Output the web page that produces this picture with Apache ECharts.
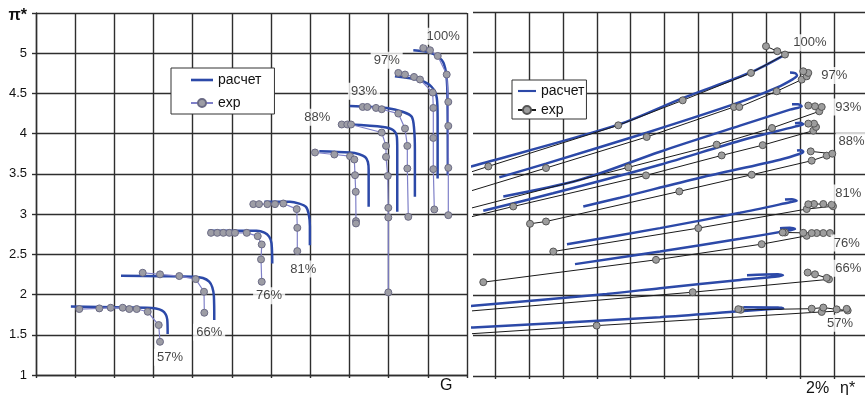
<!DOCTYPE html>
<html><head><meta charset="utf-8">
<script src="https://cdn.jsdelivr.net/npm/echarts@6/dist/echarts.min.js"></script>
<style>html,body{margin:0;padding:0;background:#fff}#c{width:865px;height:395px}</style>
</head><body><div id="c"></div>
<script>
// ---- data (speed lines from top: 100%, 97%, 93%, unlabeled, 88%, 81%, 76%, 66%, 57%) ----
// left panel: [G, pi*]
const leftCalc = [
 [[9.63,5.037],[10.06,5.008],[10.36,4.913],[10.46,4.77],[10.50,4.5],[10.51,3.484]],
 [[9.16,4.714],[9.80,4.664],[10.10,4.58],[10.23,4.44],[10.25,4.2],[10.25,3.443]],
 [[8.01,4.345],[8.95,4.32],[9.375,4.27],[9.59,4.21],[9.65,4.06],[9.67,3.8],[9.67,3.215]],
 [[8.01,4.114],[8.86,4.084],[9.12,4.043],[9.21,3.96],[9.22,3.80],[9.22,3.028]],
 [[7.23,3.782],[8.01,3.766],[8.25,3.745],[8.40,3.71],[8.47,3.65],[8.49,3.55],[8.49,3.09]],
 [[5.83,3.153],[6.48,3.153],[6.72,3.13],[6.89,3.09],[6.96,3.0],[6.99,2.85],[6.99,2.613]],
 [[4.40,2.792],[5.63,2.792],[5.83,2.77],[5.95,2.72],[6.01,2.64],[6.03,2.387]],
 [[2.17,2.233],[3.2,2.228],[4.02,2.221],[4.26,2.205],[4.42,2.16],[4.50,2.09],[4.54,1.98],[4.55,1.683]],
 [[0.89,1.85],[2.83,1.836],[3.06,1.826],[3.22,1.80],[3.31,1.755],[3.35,1.69],[3.36,1.51]]
];
const leftExp = [
 [[9.885,5.065],[10.056,5.037],[10.253,4.966],[10.482,4.735],[10.523,4.395],[10.523,4.096],[10.523,3.575],[10.523,2.987]],
 [[9.247,4.755],[9.418,4.735],[9.648,4.705],[9.801,4.673],[10.125,4.511],[10.140,4.320],[10.140,3.947],[10.140,3.559],[10.166,3.058]],
 [[8.338,4.332],[8.456,4.332],[8.678,4.320],[8.823,4.304],[9.247,4.250],[9.418,4.064],[9.477,3.848],[9.477,3.567],[9.502,2.966]],
 [[7.802,4.114],[7.945,4.114],[8.040,4.114],[8.823,4.014],[8.933,3.848],[8.933,3.711],[8.977,3.475],[8.992,3.078],[8.992,2.958],[8.992,2.027]],
 [[7.121,3.766],[7.614,3.741],[8.014,3.720],[8.124,3.679],[8.142,3.484],[8.160,3.277],[8.167,2.913],[8.167,2.884]],
 [[5.546,3.124],[5.692,3.124],[5.904,3.124],[6.100,3.124],[6.312,3.132],[6.654,3.062],[6.669,2.829],[6.669,2.540]],
 [[4.467,2.767],[4.627,2.767],[4.781,2.767],[4.934,2.767],[5.079,2.767],[5.378,2.767],[5.659,2.726],[5.761,2.623],[5.743,2.437],[5.761,2.159]],
 [[2.723,2.271],[3.165,2.251],[3.657,2.230],[4.076,2.192],[4.288,2.035],[4.296,1.774]],
 [[1.105,1.820],[1.616,1.828],[1.907,1.836],[2.213,1.836],[2.381,1.820],[2.570,1.820],[2.851,1.786],[3.132,1.621],[3.165,1.413]]
];
// right panel: [eta* (grid steps), pi*]
const rightCalc = [
 [[-1.62,3.482],[-0.65,3.596],[3.634,4.107],[5.55,4.438],[7.545,4.755],[8.497,4.961]],
 [[0.127,3.455],[1.503,3.625],[4.471,4.008],[7.132,4.373],[8.302,4.565],[8.783,4.671],[8.901,4.714],[8.842,4.745],[8.694,4.751]],
 [[0.245,3.220],[2.505,3.426],[4.863,3.773],[7.221,4.095],[8.694,4.293],[9.039,4.336],[8.930,4.361],[8.753,4.361]],
 [[-0.345,3.043],[1.709,3.259],[4.863,3.612],[7.221,3.909],[8.842,4.083],[9.086,4.113],[8.989,4.132],[8.842,4.126]],
 [[2.602,3.096],[3.684,3.204],[6.042,3.451],[8.400,3.674],[8.989,3.748],[9.086,3.773],[9.019,3.792],[8.901,3.789]],
 [[2.122,2.630],[4.863,2.828],[7.221,3.018],[8.694,3.148],[8.892,3.167],[8.753,3.185],[8.547,3.181]],
 [[2.358,2.383],[4.863,2.539],[7.221,2.696],[8.694,2.801],[8.842,2.816],[8.694,2.832],[8.400,2.826]],
 [[-1.62,1.827],[-0.64,1.867],[3.292,2.015],[4.863,2.086],[7.221,2.188],[8.252,2.226],[8.488,2.244],[8.341,2.259],[7.427,2.247]],
 [[-1.62,1.576],[-0.64,1.601],[4.863,1.727],[7.221,1.799],[8.252,1.830],[8.497,1.836],[8.341,1.848],[7.318,1.851]]
];
const rightExp = [
 [[-4.66,2.987],[-0.197,3.591],[3.634,4.099],[5.532,4.408],[7.545,4.747],[8.547,4.974],[8.320,5.015],[7.987,5.077]],
 [[-2.51,3.058],[1.503,3.571],[4.471,3.955],[7.044,4.326],[7.200,4.326],[8.302,4.520],[9.039,4.664],[9.187,4.705],[9.234,4.747],[9.086,4.767]],
 [[-1.71,2.966],[3.929,3.579],[6.534,3.860],[8.164,4.066],[9.558,4.272],[9.629,4.326],[9.431,4.334],[9.234,4.343]],
 [[-5.75,2.027],[-0.80,2.958],[0.539,3.096],[4.450,3.480],[6.681,3.727],[7.890,3.854],[9.381,4.033],[9.461,4.079],[9.402,4.120],[9.234,4.120]],
 [[1.032,2.882],[1.503,2.910],[5.432,3.282],[7.566,3.488],[9.334,3.662],[9.776,3.724],[9.941,3.748],[9.305,3.777]],
 [[1.718,2.539],[5.992,2.828],[9.187,3.064],[9.962,3.098],[9.923,3.117],[9.676,3.126],[9.402,3.126],[9.234,3.123]],
 [[-0.345,2.160],[4.745,2.436],[7.860,2.630],[9.187,2.733],[9.873,2.767],[9.676,2.767],[9.481,2.767],[9.334,2.767],[9.086,2.770],[8.547,2.774],[8.479,2.774]],
 [[-1.27,1.784],[5.827,2.036],[9.844,2.195],[9.776,2.213],[9.431,2.257],[9.216,2.279]],
 [[-4.74,1.413],[2.997,1.623],[9.629,1.792],[10.395,1.809],[10.365,1.830],[10.071,1.824],[9.676,1.846],[9.334,1.832],[7.241,1.818],[7.171,1.826]]
];
const speedLabels = ['100%','97%','93%','88%','81%','76%','66%','57%'];
const leftLabelAt = [[10.39,5.21],[8.95,4.913],[8.37,4.528],[7.18,4.205],[6.82,2.317],[5.95,1.985],[4.42,1.530],[3.42,1.220]];
const rightLabelAt = [[9.28,5.119],[10.0,4.714],[10.41,4.326],[10.51,3.901],[10.41,3.262],[10.365,2.643],[10.41,2.333],[10.17,1.652]];
const yTicks = [1,1.5,2,2.5,3,3.5,4,4.5,5,5.5];
const etaGrid = [0,1,2,3,4,5,6,7,8,9,10];

// ---- chart ----
const FONT = '"Liberation Sans", Arial, sans-serif';
const BLUE = '#2c49a8';
const GRIDC = '#2e2e2e';
const GW = 1.4;
const chart = echarts.init(document.getElementById('c'), null, {renderer:'canvas'});
const series = [];
leftCalc.forEach(d => series.push({type:'line', name:'расчет', xAxisIndex:0, yAxisIndex:0, data:d,
  symbol:'none', showSymbol:false, smooth:0.3, lineStyle:{color:BLUE, width:2.5}, itemStyle:{color:BLUE}, z:3, silent:true}));
leftExp.forEach(d => series.push({type:'line', name:'exp', xAxisIndex:0, yAxisIndex:0, data:d,
  symbol:'circle', symbolSize:7, showSymbol:true, lineStyle:{color:'#7f80c8', width:1.2},
  itemStyle:{color:'#9d9da5', borderColor:'#6a6a84', borderWidth:1}, z:4, silent:true}));
rightCalc.forEach(d => series.push({type:'line', name:'расчет η', xAxisIndex:1, yAxisIndex:1, data:d,
  symbol:'none', showSymbol:false, smooth:0.3, lineStyle:{color:BLUE, width:2.5}, itemStyle:{color:BLUE}, z:3, silent:true}));
rightExp.forEach(d => series.push({type:'line', name:'exp η', xAxisIndex:1, yAxisIndex:1, data:d,
  symbol:'circle', symbolSize:7, showSymbol:true, lineStyle:{color:'#1a1a1a', width:1},
  itemStyle:{color:'#9d9d9d', borderColor:'#555', borderWidth:1}, z:4, silent:true}));
const lbl = {show:true, position:'inside', formatter:'{b}', backgroundColor:'#fff', padding:[2,3],
  fontSize:13, color:'#111', fontFamily:FONT};
series.push({type:'scatter', xAxisIndex:0, yAxisIndex:0, symbolSize:0, silent:true, z:6,
  data: leftLabelAt.map((p,i)=>({value:p, name:speedLabels[i]})), label:lbl});
series.push({type:'scatter', xAxisIndex:1, yAxisIndex:1, symbolSize:0, silent:true, z:6,
  data: rightLabelAt.map((p,i)=>({value:p, name:speedLabels[i]})), label:lbl});

const lineIcon = 'path://M0,0H22V2.6H0Z';
const legendBase = {orient:'vertical', itemHeight:10, selectedMode:false, borderColor:'#333', borderWidth:1,
  backgroundColor:'#fff', borderRadius:0, textStyle:{fontSize:14, color:'#111', fontFamily:FONT, lineHeight:14}};

chart.setOption({
  animation:false,
  textStyle:{fontFamily:FONT},
  grid:[{left:36, top:13, width:431, height:362},{left:473, top:12, width:392, height:364}],
  xAxis:[
    {type:'value', gridIndex:0, min:0, max:11, interval:1,
     axisLine:{show:true, lineStyle:{color:GRIDC, width:GW}}, axisTick:{show:true, length:3, lineStyle:{color:GRIDC, width:GW}},
     axisLabel:{show:false}, splitLine:{show:true, lineStyle:{color:GRIDC, width:GW}}},
    {type:'value', gridIndex:1, min:-0.648, max:10.905,
     axisLine:{show:false}, axisTick:{show:true, length:3, customValues:etaGrid, lineStyle:{color:GRIDC, width:GW}},
     axisLabel:{show:false}, splitLine:{show:true, lineStyle:{color:GRIDC, width:GW}}}
  ],
  yAxis:[
    {type:'value', gridIndex:0, min:1, max:5.5, interval:0.5,
     axisLine:{show:true, lineStyle:{color:GRIDC, width:GW}}, axisTick:{show:true, length:4, lineStyle:{color:GRIDC, width:GW}},
     axisLabel:{show:true, margin:9, fontSize:13, color:'#111', fontFamily:FONT,
       customValues:yTicks,
       formatter: v => v === 5.5 ? '{p|π*}' : String(v),
       rich:{p:{fontSize:16, fontWeight:'bold', color:'#111', fontFamily:FONT, padding:[6,0,0,0]}}},
     splitLine:{show:true, lineStyle:{color:GRIDC, width:GW}}},
    {type:'value', gridIndex:1, min:1, max:5.5, interval:0.5,
     axisLine:{show:false}, axisTick:{show:false}, axisLabel:{show:false},
     splitLine:{show:true, lineStyle:{color:GRIDC, width:GW}}}
  ],
  legend:[
    Object.assign({}, legendBase, {data:[{name:'расчет', icon:lineIcon},'exp'], left:171, top:68, itemWidth:22, itemGap:9, padding:[5,13,4,19]}),
    Object.assign({}, legendBase, {data:[{name:'расчет η', icon:lineIcon},'exp η'], left:512, top:80, itemWidth:18, itemGap:5, padding:[4,2,2,5],
      formatter: n => n.split(' ')[0]})
  ],
  graphic:[
    {type:'text', left:440, top:378, style:{text:'G', font:'16px ' + FONT, fill:'#111'}},
    {type:'text', left:806, top:381, style:{text:'2%', font:'16px ' + FONT, fill:'#111'}},
    {type:'text', left:840, top:381, style:{text:'η*', font:'16px ' + FONT, fill:'#111'}}
  ],
  series: series
});
</script></body></html>
